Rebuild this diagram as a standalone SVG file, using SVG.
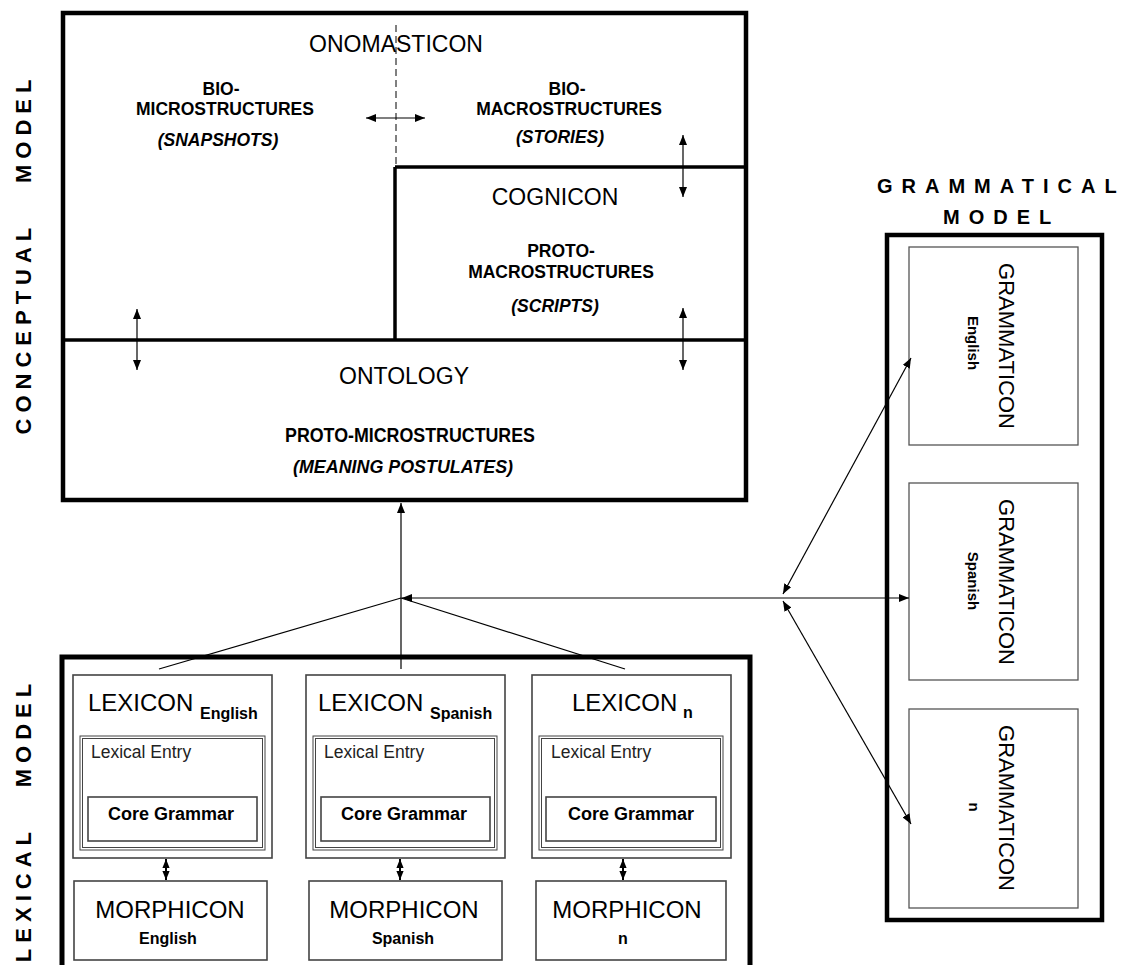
<svg xmlns="http://www.w3.org/2000/svg" width="1127" height="965" viewBox="0 0 1127 965">
<style>
text{font-family:"Liberation Sans",Arial,sans-serif;fill:#000}
.big{font-size:23px}
.sub{font-size:17.5px;font-weight:bold;text-anchor:middle}
.it{font-style:italic}
.mid{text-anchor:middle}
.thick{fill:none;stroke:#000;stroke-width:4.5}
.div{fill:none;stroke:#000;stroke-width:3.5}
.thin{fill:none;stroke:#444;stroke-width:1.6}
.dbl{fill:none;stroke:#444;stroke-width:1}
.gbox{fill:none;stroke:#555;stroke-width:1.3}
.vlab{font-size:22px;font-weight:bold;letter-spacing:6px}
.glab{font-size:20px;font-weight:bold;letter-spacing:9px}
.conn{fill:none;stroke:#000;stroke-width:1.2}
.lex{font-size:24px}
.lsub{font-size:16px;font-weight:bold}
.le{font-size:17.5px;fill:#222}
.cg{font-size:18px;font-weight:bold}
.gram{font-size:22px;text-anchor:middle}
.gsub{font-size:15px;font-weight:bold;text-anchor:middle}
</style>
<defs>
<marker id="ah" viewBox="0 0 10 8" refX="10" refY="4" markerWidth="10" markerHeight="8" markerUnits="userSpaceOnUse" orient="auto-start-reverse">
<path d="M0,0 L10,4 L0,8 z" fill="#000"/>
</marker>
<marker id="ahs" viewBox="0 0 10 8" refX="10" refY="4" markerWidth="9" markerHeight="9" markerUnits="userSpaceOnUse" orient="auto-start-reverse">
<path d="M0,0 L10,4 L0,8 z" fill="#000"/>
</marker>
</defs>

<g id="side-labels">
<text class="vlab mid" transform="translate(31,254) rotate(-90)">CONCEPTUAL<tspan dx="27"> MODEL</tspan></text>
<text class="vlab mid" transform="translate(31,820) rotate(-90)">LEXICAL<tspan dx="27"> MODEL</tspan></text>
<text class="glab" x="877" y="193">GRAMMATICAL</text>
<text class="glab" x="943" y="224">MODEL</text>
</g>

<g id="conceptual-model">
<rect class="thick" x="63" y="13" width="683" height="487"/>
<line class="div" x1="63" y1="340" x2="746" y2="340"/>
<line class="div" x1="395" y1="167" x2="395" y2="340"/>
<line class="div" x1="395" y1="167" x2="746" y2="167"/>
</g>

<g id="onomasticon">
<text class="big mid" x="396" y="52">ONOMASTICON</text>
<line x1="396" y1="25" x2="396" y2="165" stroke="#000" stroke-width="1" stroke-dasharray="7,4"/>
<text class="sub" x="221" y="95">BIO-</text>
<text class="sub" x="225" y="115">MICROSTRUCTURES</text>
<text class="sub it" x="218" y="146">(SNAPSHOTS)</text>
<text class="sub" x="567" y="95">BIO-</text>
<text class="sub" x="569" y="115">MACROSTRUCTURES</text>
<text class="sub it" x="560" y="143">(STORIES)</text>
</g>

<g id="cognicon">
<text class="big mid" x="555" y="205">COGNICON</text>
<text class="sub" x="561" y="257">PROTO-</text>
<text class="sub" x="561" y="278">MACROSTRUCTURES</text>
<text class="sub it" x="555" y="312">(SCRIPTS)</text>
</g>

<g id="ontology">
<text class="big mid" x="404" y="384">ONTOLOGY</text>
<text class="mid" x="410" y="442" font-size="20" font-weight="bold" textLength="250" lengthAdjust="spacingAndGlyphs">PROTO-MICROSTRUCTURES</text>
<text class="mid it" x="403" y="473" font-size="18.5" font-weight="bold" textLength="220" lengthAdjust="spacingAndGlyphs">(MEANING POSTULATES)</text>
</g>

<g id="lexical-model">
<rect x="62" y="657" width="688" height="330" fill="none" stroke="#000" stroke-width="5"/>
</g>

<g id="lexicon-english">
<rect class="thin" x="73" y="675" width="199" height="183"/>
<text class="lex" x="88" y="711">LEXICON</text>
<text class="lsub" x="200" y="719">English</text>
<rect class="dbl" x="80" y="736" width="185" height="114"/>
<rect class="dbl" x="82.5" y="738.5" width="180" height="109"/>
<text class="le" x="91" y="758">Lexical Entry</text>
<rect class="thin" x="88" y="797" width="169" height="44"/>
<text class="cg mid" x="171" y="820">Core Grammar</text>
</g>

<g id="lexicon-spanish">
<rect class="thin" x="306" y="675" width="199" height="183"/>
<text class="lex" x="318" y="711">LEXICON</text>
<text class="lsub" x="430" y="719">Spanish</text>
<rect class="dbl" x="313" y="736" width="184" height="114"/>
<rect class="dbl" x="315.5" y="738.5" width="179" height="109"/>
<text class="le" x="324" y="758">Lexical Entry</text>
<rect class="thin" x="321" y="797" width="169" height="44"/>
<text class="cg mid" x="404" y="820">Core Grammar</text>
</g>

<g id="lexicon-n">
<rect class="thin" x="532" y="675" width="199" height="183"/>
<text class="lex" x="572" y="711">LEXICON</text>
<text class="lsub" x="683" y="718">n</text>
<rect class="dbl" x="539" y="736" width="184" height="114"/>
<rect class="dbl" x="541.5" y="738.5" width="179" height="109"/>
<text class="le" x="551" y="758">Lexical Entry</text>
<rect class="thin" x="546" y="797" width="170" height="44"/>
<text class="cg mid" x="631" y="820">Core Grammar</text>
</g>

<g id="morphicon-english">
<rect class="thin" x="74" y="881" width="193" height="79"/>
<text class="lex mid" x="170" y="918">MORPHICON</text>
<text class="lsub mid" x="168" y="944">English</text>
</g>

<g id="morphicon-spanish">
<rect class="thin" x="309" y="881" width="193" height="79"/>
<text class="lex mid" x="404" y="918">MORPHICON</text>
<text class="lsub mid" x="403" y="944">Spanish</text>
</g>

<g id="morphicon-n">
<rect class="thin" x="536" y="881" width="190" height="79"/>
<text class="lex mid" x="627" y="918">MORPHICON</text>
<text class="lsub mid" x="623" y="944">n</text>
</g>

<g id="grammatical-model">
<rect x="887" y="235" width="215" height="685" fill="none" stroke="#000" stroke-width="4.5"/>
</g>

<g id="grammaticon-english">
<rect class="gbox" x="909" y="247" width="169" height="198"/>
<text class="gram" transform="translate(999,346) rotate(90)">GRAMMATICON</text>
<text class="gsub" transform="translate(967.5,343) rotate(90)">English</text>
</g>

<g id="grammaticon-spanish">
<rect class="gbox" x="909" y="483" width="169" height="197"/>
<text class="gram" transform="translate(999,582) rotate(90)">GRAMMATICON</text>
<text class="gsub" transform="translate(967.5,581) rotate(90)">Spanish</text>
</g>

<g id="grammaticon-n">
<rect class="gbox" x="909" y="709" width="169" height="199"/>
<text class="gram" transform="translate(999,808) rotate(90)">GRAMMATICON</text>
<text class="gsub" transform="translate(968.5,807) rotate(90)">n</text>
</g>

<g id="connectors">
<line class="conn" x1="366" y1="118" x2="425" y2="118" marker-start="url(#ah)" marker-end="url(#ah)"/>
<line class="conn" x1="683" y1="135" x2="683" y2="197" marker-start="url(#ah)" marker-end="url(#ah)"/>
<line class="conn" x1="137" y1="309" x2="137" y2="370" marker-start="url(#ah)" marker-end="url(#ah)"/>
<line class="conn" x1="683" y1="308" x2="683" y2="370" marker-start="url(#ah)" marker-end="url(#ah)"/>
<line class="conn" x1="401" y1="669" x2="401" y2="503" marker-end="url(#ah)"/>
<line class="conn" x1="401" y1="598" x2="159" y2="669"/>
<line class="conn" x1="401" y1="598" x2="625" y2="669"/>
<line class="conn" x1="402" y1="598" x2="909" y2="598" marker-start="url(#ah)" marker-end="url(#ah)"/>
<line class="conn" x1="783" y1="594" x2="911" y2="358" marker-start="url(#ah)" marker-end="url(#ah)"/>
<line class="conn" x1="783" y1="601" x2="911" y2="824" marker-start="url(#ah)" marker-end="url(#ah)"/>
<line x1="166" y1="859" x2="166" y2="880" stroke="#000" stroke-width="2" marker-start="url(#ahs)" marker-end="url(#ahs)"/>
<line x1="400" y1="859" x2="400" y2="880" stroke="#000" stroke-width="2" marker-start="url(#ahs)" marker-end="url(#ahs)"/>
<line x1="623" y1="859" x2="623" y2="880" stroke="#000" stroke-width="2" marker-start="url(#ahs)" marker-end="url(#ahs)"/>
</g>
</svg>
